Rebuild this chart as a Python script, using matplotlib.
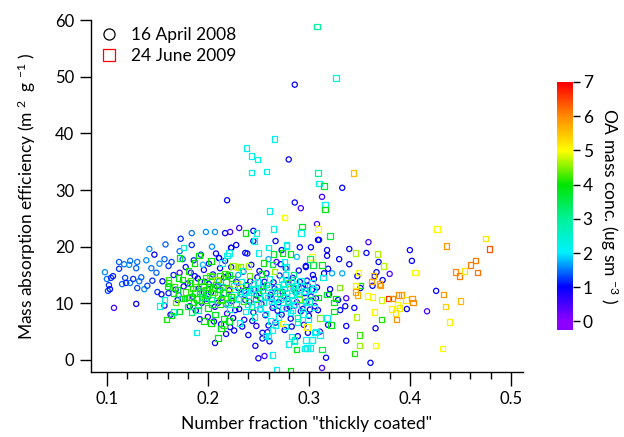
import numpy as np
import matplotlib
matplotlib.use("Agg")
import matplotlib.pyplot as plt
from matplotlib.colors import LinearSegmentedColormap, Normalize
from matplotlib.lines import Line2D
from matplotlib.ticker import MultipleLocator

plt.rcParams["font.family"] = ["Lato", "DejaVu Sans"]
plt.rcParams["mathtext.fontset"] = "custom"
plt.rcParams["mathtext.rm"] = "Lato"
plt.rcParams["mathtext.it"] = "Lato"

# =========================
# Datos (fracción, MAE, OA)
# =========================

# 16 April 2008 - círculos
april_left = [
    (0.098, 15.5, 1.6), (0.100, 14.3, 1.5), (0.104, 14.5, 1.2), (0.102, 13.2, 1.2),
    (0.101, 12.2, 1.3), (0.103, 12.5, 1.0), (0.107, 9.2, 0.5), (0.112, 17.3, 1.4),
    (0.117, 16.9, 1.5), (0.122, 16.8, 1.6), (0.123, 17.5, 1.5), (0.112, 16.1, 1.2),
    (0.118, 14.5, 1.3), (0.115, 13.4, 1.4), (0.119, 13.6, 1.1), (0.123, 13.6, 1.5),
    (0.126, 14.3, 1.2), (0.132, 13.9, 1.5), (0.130, 12.7, 1.3), (0.137, 12.5, 1.6),
    (0.140, 13.1, 1.3), (0.129, 16.2, 1.4), (0.130, 17.3, 1.5), (0.139, 17.6, 1.6),
    (0.142, 19.6, 1.6), (0.144, 16.2, 1.5), (0.149, 15.4, 1.4), (0.150, 12.0, 1.2),
    (0.154, 11.6, 1.0), (0.161, 11.8, 1.1), (0.155, 13.9, 1.0), (0.157, 17.8, 1.4),
    (0.161, 16.6, 1.2), (0.164, 17.3, 1.3), (0.172, 19.2, 1.5), (0.173, 21.4, 1.2),
    (0.175, 17.8, 1.4), (0.184, 22.4, 1.5), (0.184, 20.3, 1.2), (0.198, 22.6, 1.6),
    (0.217, 22.4, 1.0), (0.129, 9.9, 1.0), (0.106, 14.8, 1.1), (0.134, 14.6, 1.4),
    (0.145, 14.0, 1.2), (0.147, 18.6, 1.0), (0.152, 17.0, 1.6), (0.158, 20.4, 1.4),
    (0.166, 15.0, 1.1), (0.168, 12.4, 0.9), (0.170, 10.6, 1.0), (0.176, 13.0, 0.8),
    (0.171, 11.4, 1.5), (0.163, 8.0, 1.0), (0.157, 9.6, 0.8), (0.178, 16.4, 1.0),
    (0.183, 15.4, 0.9), (0.186, 17.6, 1.2), (0.190, 14.4, 1.0), (0.193, 18.6, 1.3),
    (0.196, 15.9, 0.8), (0.201, 17.0, 1.1), (0.204, 20.0, 1.6), (0.208, 18.8, 1.0),
    (0.212, 16.2, 1.0), (0.211, 18.0, 1.0), (0.217, 17.5, 1.1), (0.223, 19.8, 1.0),
    (0.228, 20.3, 1.0), (0.231, 23.3, 0.6), (0.245, 22.8, 1.0), (0.237, 18.9, 1.0),
    (0.239, 18.8, 1.1), (0.172, 15.4, 0.5),
]

april_core = [
    (0.180, 13.5, 1.0), (0.185, 11.2, 0.8), (0.188, 8.7, 1.0), (0.191, 12.6, 1.1),
    (0.194, 10.1, 0.9), (0.197, 13.8, 1.0), (0.200, 7.6, 0.7), (0.203, 11.9, 1.0),
    (0.205, 15.1, 1.1), (0.207, 9.4, 0.9), (0.209, 13.0, 0.8), (0.213, 6.3, 1.0),
    (0.214, 11.0, 1.2), (0.216, 14.6, 1.0), (0.219, 8.2, 0.6), (0.221, 12.3, 1.0),
    (0.223, 16.4, 1.1), (0.224, 10.4, 0.8), (0.226, 5.2, 1.0), (0.228, 13.8, 0.9),
    (0.231, 9.0, 1.0), (0.233, 11.6, 1.2), (0.235, 15.6, 1.0), (0.236, 7.1, 0.9),
    (0.238, 13.2, 1.0), (0.240, 4.4, 1.0), (0.241, 10.3, 0.7), (0.243, 16.8, 1.0),
    (0.245, 8.4, 1.1), (0.246, 12.4, 1.0), (0.248, 6.0, 0.8), (0.249, 14.6, 1.0),
    (0.252, 10.9, 1.0), (0.254, 3.8, 1.0), (0.255, 12.9, 0.6), (0.257, 7.9, 1.0),
    (0.258, 15.3, 1.1), (0.259, 4.9, 0.5), (0.261, 3.3, 1.0), (0.262, 11.5, 1.0),
    (0.264, 9.2, 0.9), (0.265, 13.7, 1.0), (0.267, 6.6, 1.0), (0.268, 17.3, 0.5),
    (0.270, 10.2, 1.0), (0.271, 14.9, 1.1), (0.273, 8.0, 1.0), (0.274, 12.0, 0.8),
    (0.276, 5.3, 1.0), (0.277, 16.2, 1.0), (0.279, 10.8, 1.0), (0.280, 13.4, 0.6),
    (0.282, 7.3, 1.0), (0.284, 14.5, 1.0), (0.286, 9.6, 1.0), (0.287, 11.9, 1.2),
    (0.289, 4.2, 1.0), (0.290, 15.8, 1.0), (0.292, 8.6, 0.9), (0.293, 12.7, 1.0),
    (0.295, 6.2, 0.5), (0.297, 10.3, 1.0), (0.298, 14.0, 1.0), (0.300, 7.8, 1.0),
    (0.302, 11.2, 1.0), (0.304, 15.0, 1.0), (0.306, 9.5, 0.6), (0.308, 12.8, 1.0),
    (0.250, 0.3, 0.9), (0.256, 0.7, 0.6), (0.247, 2.5, 1.0), (0.207, 3.0, 1.0),
    (0.222, 5.8, 1.0), (0.225, 7.4, 1.0), (0.254, 4.8, 1.0), (0.211, 13.9, 1.7),
    (0.195, 16.8, 1.8), (0.230, 15.0, 1.7), (0.218, 9.8, 1.6), (0.260, 17.8, 1.7),
    (0.199, 10.8, 0.6), (0.236, 12.2, 0.5), (0.278, 9.1, 0.5), (0.252, 8.9, 1.6),
]

april_core2 = [
    (0.182, 9.5, 1.0), (0.187, 14.8, 1.0), (0.192, 7.2, 0.9), (0.196, 11.9, 1.0),
    (0.201, 13.4, 1.2), (0.206, 6.8, 1.0), (0.210, 10.1, 1.0), (0.215, 12.8, 0.9),
    (0.218, 4.6, 1.0), (0.220, 14.9, 1.0), (0.227, 8.8, 1.0), (0.230, 12.7, 0.8),
    (0.234, 5.9, 1.0), (0.237, 10.6, 1.1), (0.242, 13.9, 1.0), (0.244, 6.9, 1.0),
    (0.248, 11.4, 1.0), (0.251, 15.7, 1.0), (0.253, 9.9, 0.8), (0.256, 13.8, 1.0),
    (0.260, 6.1, 1.0), (0.263, 10.8, 1.0), (0.266, 12.6, 1.1), (0.269, 8.7, 1.0),
    (0.272, 16.9, 1.0), (0.275, 11.3, 1.0), (0.278, 14.1, 1.0), (0.281, 9.4, 1.0),
    (0.283, 5.9, 1.0), (0.285, 12.6, 1.0), (0.288, 10.2, 0.5), (0.291, 13.8, 1.0),
    (0.294, 9.0, 1.0), (0.296, 11.8, 1.0), (0.299, 13.1, 1.0), (0.301, 8.9, 1.0),
    (0.303, 12.4, 1.0), (0.305, 14.3, 0.9), (0.307, 10.9, 1.0), (0.299, 4.8, 1.0),
]

april_right = [
    (0.207, 22.6, 1.6), (0.222, 22.6, 0.5), (0.245, 21.0, 1.0), (0.267, 21.0, 1.0),
    (0.223, 19.8, 1.0), (0.273, 19.4, 1.0), (0.291, 19.9, 1.0), (0.302, 19.9, 1.0),
    (0.288, 18.2, 1.8), (0.297, 16.6, 1.0), (0.211, 18.0, 1.0), (0.308, 24.0, 0.5),
    (0.309, 21.2, 1.0), (0.310, 21.2, 1.0), (0.318, 19.4, 1.0), (0.318, 18.4, 1.0),
    (0.330, 17.8, 1.0), (0.340, 19.6, 1.0), (0.357, 18.9, 1.0), (0.359, 20.8, 0.5),
    (0.369, 17.3, 1.0), (0.340, 16.9, 1.0), (0.400, 19.4, 1.0), (0.402, 17.5, 1.0),
    (0.333, 15.3, 1.7), (0.323, 15.3, 1.7), (0.319, 16.1, 1.0), (0.315, 15.3, 1.0),
    (0.367, 15.5, 1.0), (0.365, 14.8, 1.0), (0.373, 14.1, 1.0), (0.363, 13.1, 1.0),
    (0.380, 15.2, 0.5), (0.348, 14.8, 1.0), (0.351, 12.7, 1.0), (0.321, 12.5, 1.0),
    (0.320, 11.6, 1.0), (0.329, 10.6, 1.0), (0.337, 10.9, 0.5), (0.345, 9.2, 1.0),
    (0.336, 9.5, 1.0), (0.331, 8.8, 1.0), (0.397, 9.0, 1.0), (0.417, 8.6, 0.5),
    (0.426, 12.2, 1.0), (0.337, 6.0, 1.0), (0.337, 3.4, 1.0), (0.366, 5.6, 1.0),
    (0.361, -0.5, 1.0), (0.317, 0.4, 1.0), (0.313, -1.4, 0.5), (0.319, 6.2, 1.0),
    (0.311, 5.0, 0.5), (0.309, 8.8, 1.0), (0.297, 16.4, 1.0),
]

april_outliers = [
    (0.286, 48.6, 1.0), (0.280, 35.4, 1.0), (0.219, 28.2, 1.0), (0.286, 27.8, 1.0),
    (0.292, 26.8, 0.5), (0.333, 30.4, 1.0), (0.313, 28.8, 0.5),
]

# 24 June 2009 - cuadrados
june_left = [
    (0.161, 13.6, 4.0), (0.167, 12.9, 4.2), (0.170, 12.4, 3.8), (0.166, 11.8, 4.0),
    (0.174, 10.9, 3.5), (0.177, 10.9, 4.0), (0.184, 11.1, 4.1), (0.187, 11.8, 3.9),
    (0.194, 11.8, 3.7), (0.197, 10.6, 4.2), (0.180, 9.4, 3.6), (0.172, 8.6, 3.8),
    (0.164, 7.9, 4.0), (0.159, 7.2, 4.1), (0.152, 9.5, 2.2), (0.157, 10.6, 2.4),
    (0.166, 8.5, 2.8), (0.184, 8.5, 3.3), (0.190, 8.8, 2.6), (0.196, 6.9, 4.0),
    (0.189, 4.8, 2.2), (0.191, 18.5, 4.0), (0.187, 17.1, 4.0), (0.203, 17.5, 4.0),
    (0.214, 17.1, 2.2), (0.181, 15.7, 4.1), (0.172, 18.0, 3.8), (0.176, 19.9, 2.4),
    (0.219, 18.5, 2.3), (0.237, 22.4, 4.0), (0.225, 16.6, 4.6), (0.229, 16.4, 4.8),
    (0.232, 16.5, 4.5), (0.240, 16.6, 4.7), (0.161, 14.1, 4.2), (0.171, 14.5, 3.9),
    (0.175, 14.2, 4.0), (0.183, 14.0, 4.3), (0.198, 14.6, 3.8), (0.204, 14.7, 4.1),
    (0.212, 14.9, 4.0), (0.221, 15.0, 3.6), (0.255, 17.1, 4.0), (0.264, 16.9, 3.5),
    (0.274, 18.9, 3.9), (0.160, 13.0, 3.7), (0.168, 10.1, 4.4),
]

june_core = [
    (0.178, 12.0, 4.2), (0.182, 13.6, 3.9), (0.186, 10.2, 4.0), (0.188, 12.9, 4.3),
    (0.190, 9.6, 3.7), (0.193, 13.9, 4.0), (0.195, 11.1, 3.2), (0.198, 12.4, 4.1),
    (0.200, 9.2, 3.9), (0.202, 14.9, 4.4), (0.203, 10.7, 2.8), (0.205, 12.7, 4.0),
    (0.207, 8.0, 3.8), (0.209, 14.2, 4.6), (0.210, 11.5, 3.4), (0.212, 9.8, 4.1),
    (0.214, 13.0, 2.3), (0.216, 7.3, 4.0), (0.217, 15.3, 4.2), (0.219, 10.9, 3.0),
    (0.221, 12.6, 4.5), (0.222, 8.9, 2.5), (0.224, 14.4, 4.0), (0.226, 11.6, 2.2),
    (0.228, 9.9, 3.6), (0.229, 13.5, 4.8), (0.231, 6.5, 2.1), (0.232, 12.1, 3.1),
    (0.234, 15.8, 2.4), (0.235, 10.4, 4.2), (0.237, 8.6, 2.0), (0.238, 13.1, 3.8),
    (0.240, 11.3, 2.6), (0.241, 14.9, 4.4), (0.243, 9.4, 3.3), (0.244, 12.5, 2.1),
    (0.246, 7.6, 2.4), (0.247, 10.8, 3.9), (0.249, 13.8, 2.2), (0.250, 11.7, 2.9),
    (0.251, 9.1, 2.0), (0.253, 15.2, 3.7), (0.254, 12.3, 4.0), (0.255, 10.2, 2.5),
    (0.257, 8.2, 2.1), (0.258, 13.3, 3.4), (0.259, 11.0, 2.2), (0.261, 14.3, 2.4),
    (0.262, 6.9, 2.2), (0.263, 12.1, 3.0), (0.265, 9.7, 2.3), (0.266, 15.6, 4.6),
    (0.267, 10.9, 2.0), (0.269, 13.0, 2.6), (0.270, 7.6, 2.1), (0.271, 11.8, 3.8),
    (0.273, 14.2, 2.3), (0.274, 9.2, 2.0), (0.276, 12.6, 2.7), (0.277, 5.9, 2.2),
    (0.279, 10.4, 2.4), (0.280, 13.6, 4.3), (0.282, 8.4, 2.1), (0.283, 11.4, 2.2),
    (0.285, 15.1, 3.1), (0.286, 9.8, 2.0), (0.288, 12.2, 2.5), (0.289, 6.7, 2.3),
    (0.291, 10.8, 4.4), (0.292, 14.0, 2.2), (0.294, 8.1, 2.1), (0.295, 12.9, 2.4),
    (0.297, 10.1, 2.0), (0.299, 7.2, 2.3), (0.301, 11.6, 3.0), (0.303, 13.7, 2.2),
    (0.305, 9.3, 2.1), (0.307, 5.0, 2.2), (0.309, 11.0, 3.9), (0.311, 4.4, 2.0),
    (0.264, 0.9, 2.1), (0.268, -1.8, 2.0), (0.282, -1.9, 3.9), (0.288, 1.8, 3.8),
    (0.296, 2.0, 2.2), (0.301, 2.1, 2.0), (0.286, 3.3, 2.1), (0.303, 3.5, 2.1),
    (0.297, 3.5, 2.1), (0.260, 4.1, 2.0), (0.257, 4.3, 2.1), (0.264, 5.3, 2.2),
    (0.267, 6.2, 2.1), (0.210, 3.9, 3.9), (0.213, 5.6, 3.9), (0.216, 6.2, 4.1),
    (0.221, 6.9, 3.8), (0.203, 6.5, 4.0),
]

june_core2 = [
    (0.181, 11.0, 3.9), (0.185, 12.6, 4.1), (0.189, 10.8, 4.0), (0.192, 12.2, 3.5),
    (0.196, 13.2, 4.2), (0.199, 11.5, 3.8), (0.201, 12.9, 4.0), (0.204, 9.9, 3.6),
    (0.206, 11.9, 4.3), (0.208, 13.3, 4.0), (0.211, 12.4, 3.9), (0.213, 10.6, 4.2),
    (0.215, 11.8, 3.7), (0.218, 13.8, 4.0), (0.220, 10.2, 3.3), (0.223, 11.1, 4.1),
    (0.226, 13.2, 2.2), (0.230, 10.8, 2.4), (0.233, 13.9, 2.2), (0.236, 11.9, 2.1),
    (0.239, 9.8, 2.3), (0.242, 12.0, 2.2), (0.245, 13.4, 2.6), (0.248, 9.9, 2.2),
    (0.252, 12.8, 2.2), (0.256, 11.3, 2.4), (0.260, 12.8, 2.2), (0.263, 10.3, 2.1),
    (0.268, 12.3, 2.3), (0.272, 10.7, 2.2), (0.275, 13.4, 2.2), (0.278, 11.9, 2.5),
    (0.281, 12.9, 2.2), (0.284, 10.6, 2.3), (0.287, 13.2, 2.1), (0.290, 11.6, 2.2),
    (0.293, 9.5, 2.4), (0.296, 12.2, 2.2), (0.300, 10.3, 2.6), (0.304, 12.4, 2.2),
]

june_right = [
    (0.278, 20.1, 2.2), (0.276, 17.3, 2.1), (0.278, 16.4, 2.3), (0.277, 15.0, 2.2),
    (0.283, 13.9, 2.4), (0.285, 12.7, 2.8), (0.275, 11.1, 2.2), (0.280, 10.1, 2.5),
    (0.284, 8.8, 2.2), (0.289, 7.4, 2.9), (0.298, 5.8, 5.0), (0.306, 4.8, 2.1),
    (0.283, 4.2, 2.2), (0.286, 3.5, 2.6), (0.280, 2.8, 2.2), (0.298, 2.1, 2.2),
    (0.313, 1.9, 3.5), (0.318, 11.6, 3.8), (0.325, 8.6, 3.9), (0.325, 10.1, 3.8),
    (0.311, 7.4, 4.5), (0.318, 7.4, 2.2), (0.303, 3.5, 2.2), (0.274, 6.4, 5.0),
    (0.304, 16.8, 3.7), (0.313, 16.8, 4.0), (0.321, 21.9, 3.6), (0.276, 25.1, 5.0),
    (0.293, 23.6, 3.8), (0.292, 22.4, 2.2), (0.309, 23.1, 5.0), (0.265, 23.1, 2.2),
    (0.248, 22.4, 2.2), (0.246, 21.0, 2.2), (0.278, 20.3, 2.2), (0.260, 19.9, 2.3),
    (0.250, 18.9, 2.2), (0.282, 18.7, 3.9), (0.265, 18.7, 3.8), (0.303, 18.2, 5.0),
    (0.301, 17.8, 3.3), (0.221, 18.9, 2.2), (0.346, 18.9, 4.7), (0.368, 18.7, 4.7),
    (0.374, 16.6, 4.7), (0.349, 15.4, 5.0), (0.405, 15.4, 5.0), (0.364, 14.8, 5.6),
    (0.362, 13.9, 5.8), (0.351, 13.2, 4.0), (0.346, 13.2, 5.0), (0.370, 13.4, 5.8),
    (0.371, 13.2, 5.9), (0.346, 12.0, 5.8), (0.348, 11.5, 5.7), (0.358, 11.3, 5.0),
    (0.363, 11.1, 5.1), (0.372, 10.6, 4.8), (0.379, 10.9, 6.7), (0.383, 10.9, 6.0),
    (0.389, 11.5, 6.0), (0.392, 11.5, 5.9), (0.396, 10.6, 5.2), (0.402, 10.9, 5.9),
    (0.403, 10.2, 6.0), (0.388, 9.7, 5.0), (0.390, 9.2, 5.2), (0.382, 9.0, 5.1),
    (0.386, 8.3, 5.2), (0.387, 7.2, 5.9), (0.365, 8.5, 5.1), (0.347, 7.6, 4.7),
    (0.372, 7.1, 4.1), (0.350, 4.4, 4.2), (0.350, 2.6, 4.6), (0.345, 1.1, 4.1),
    (0.366, 2.6, 5.0), (0.427, 23.1, 5.0), (0.436, 20.1, 5.9), (0.475, 21.4, 5.2),
    (0.479, 19.6, 6.4), (0.465, 17.6, 6.1), (0.460, 16.8, 6.1), (0.445, 15.5, 6.0),
    (0.449, 14.8, 6.1), (0.454, 15.7, 5.2), (0.467, 15.4, 6.2), (0.433, 11.6, 5.9),
    (0.450, 10.4, 5.6), (0.435, 9.4, 5.4), (0.439, 6.7, 5.1), (0.432, 2.0, 5.0),
    (0.327, 10.9, 3.9), (0.330, 12.8, 4.5), (0.314, 14.6, 2.3), (0.322, 6.2, 3.8),
]

june_outliers = [
    (0.308, 58.9, 3.0), (0.327, 49.8, 2.2), (0.238, 37.4, 2.2), (0.243, 36.0, 2.2),
    (0.249, 35.4, 2.2), (0.243, 33.1, 2.3), (0.258, 33.3, 2.2), (0.266, 39.0, 2.2),
    (0.261, 26.3, 2.2), (0.276, 25.2, 5.0), (0.309, 33.0, 3.0), (0.344, 33.0, 5.6),
    (0.310, 31.2, 2.2), (0.315, 30.7, 3.8), (0.316, 27.4, 2.2), (0.316, 26.6, 3.9),
]

abril = np.array(april_left + april_core + april_core2 + april_right + april_outliers)
junio = np.array(june_left + june_core + june_core2 + june_right + june_outliers)

# escala de colores tipo "Rainbow"
colores_escala = [
    (0.0 / 7, (0.55, 0.0, 1.0)),
    (1.0 / 7, (0.0, 0.0, 1.0)),
    (2.0 / 7, (0.0, 0.95, 1.0)),
    (3.0 / 7, (0.0, 0.95, 0.6)),
    (4.0 / 7, (0.0, 0.9, 0.0)),
    (5.0 / 7, (1.0, 1.0, 0.0)),
    (6.0 / 7, (1.0, 0.55, 0.0)),
    (7.0 / 7, (1.0, 0.0, 0.0)),
]
cmap = LinearSegmentedColormap.from_list("rainbow_igor", colores_escala)
norm = Normalize(vmin=0, vmax=7)

# =========================
# Figura
# =========================

fig = plt.figure(figsize=(6.24, 4.37), dpi=100)
ax = fig.add_axes([0.1458, 0.149, 0.6923, 0.805])

ax.scatter(abril[:, 0], abril[:, 1], s=14, marker="o", facecolors="none",
           edgecolors=cmap(norm(abril[:, 2])), linewidths=0.9)
ax.scatter(junio[:, 0], junio[:, 1], s=15, marker="s", facecolors="none",
           edgecolors=cmap(norm(junio[:, 2])), linewidths=0.9)

ax.set_xlim(0.0842, 0.512)
ax.set_ylim(-2.1, 60)
ax.xaxis.set_minor_locator(MultipleLocator(0.02))
ax.yaxis.set_major_locator(MultipleLocator(10))
ax.set_xticks([0.1, 0.2, 0.3, 0.4, 0.5])
ax.set_xticklabels(["0.1", "0.2", "0.3", "0.4", "0.5"])

for lado in ["top", "right"]:
    ax.spines[lado].set_visible(False)
for lado in ["left", "bottom"]:
    ax.spines[lado].set_linewidth(1.0)

ax.tick_params(axis="both", which="major", direction="out", length=8, width=1.0,
               labelsize=12, pad=4)
ax.tick_params(axis="x", which="minor", direction="out", length=5, width=1.0)
ax.tick_params(axis="x", which="major", length=10)

ax.set_xlabel('Number fraction "thickly coated"', fontsize=12.5, labelpad=6)
ax.set_ylabel("Mass absorption efficiency (m $^{2}$  g $^{-1}$ )", fontsize=12.5, labelpad=12)

handles = [
    Line2D([], [], marker="o", linestyle="none", markerfacecolor="none",
           markeredgecolor="black", markersize=8, markeredgewidth=0.9),
    Line2D([], [], marker="s", linestyle="none", markerfacecolor="none",
           markeredgecolor="red", markersize=8, markeredgewidth=0.9),
]
ax.legend(handles, ["16 April 2008", "24 June 2009"], loc="upper left",
          bbox_to_anchor=(-0.035, 1.025), frameon=False, fontsize=12.5,
          handletextpad=0.3, labelspacing=0.3)

# barra de colores
cax = fig.add_axes([0.8926, 0.2449, 0.0256, 0.5675])
gradiente = np.linspace(-0.25, 7, 300).reshape(-1, 1)
cax.imshow(gradiente, extent=[0, 1, -0.25, 7], origin="lower", aspect="auto",
           cmap=cmap, norm=norm)
cax.set_xlim(0, 1)
cax.set_ylim(-0.25, 7)
for lado in cax.spines.values():
    lado.set_visible(False)
cax.set_xticks([])
cax.yaxis.tick_right()
cax.set_yticks(range(0, 8))
cax.tick_params(axis="y", direction="out", length=5, width=1.0, labelsize=12.5, pad=2)
cax.yaxis.set_label_position("right")
cax.set_ylabel("OA mass conc. (ug sm $^{-3}$ )", rotation=270, fontsize=12.5, labelpad=20)

fig.savefig("out.png", dpi=100)
